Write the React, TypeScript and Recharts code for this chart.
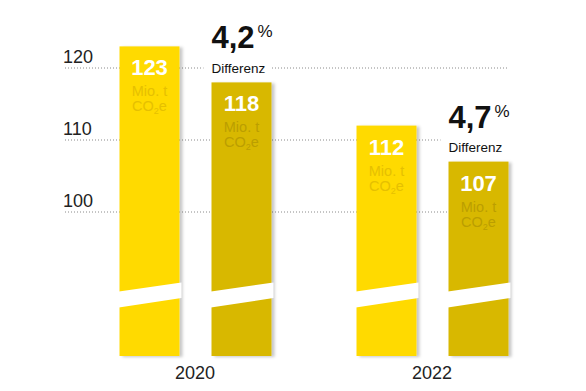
import React from 'react';
import { BarChart, Bar, XAxis, YAxis, CartesianGrid } from 'recharts';

const years = ['2020', '2022'];
const emissionsFirst = [123, 112];
const emissionsSecond = [118, 107];
const differences = ['4,2', '4,7'];
const yTicks = [100, 110, 120];
const unitLine1 = 'Mio. t';
const diffLabel = 'Differenz';

const data = years.map((year, i) => ({
  year,
  first: emissionsFirst[i],
  second: emissionsSecond[i],
  diff: differences[i],
}));

const FONT = '"Liberation Sans", Arial, Helvetica, sans-serif';
const COLOR_A = '#FFDA00';
const COLOR_B = '#D8B800';
const TEXT_A = '#E6C000';
const TEXT_B = '#BB9E00';

const BarBody = ({ x, y, width, height, fill }: any) => {
  const bottom = y + height;
  const x0 = x - 4;
  const x1 = x + width + 2;
  const band = `${x0},${bottom - 64} ${x1},${bottom - 73.5} ${x1},${bottom - 58} ${x0},${bottom - 48}`;
  return (
    <g>
      <defs>
        <filter id="barShadow" x="-20%" y="-5%" width="140%" height="110%">
          <feDropShadow dx="3" dy="1" stdDeviation="1.6" floodColor="#000" floodOpacity="0.22" />
        </filter>
      </defs>
      <rect x={x} y={y} width={width} height={height} fill={fill} filter="url(#barShadow)" />
      <polygon points={band} fill="#ffffff" />
    </g>
  );
};

const InnerText = ({ x, y, width, value, unitColor }: any) => {
  const cx = x + width / 2;
  return (
    <g fontFamily={FONT}>
      <text x={cx} y={y + 29} textAnchor="middle" fontSize={22} fontWeight="bold" fill="#ffffff">
        {value}
      </text>
      <text x={cx} y={y + 50} textAnchor="middle" fontSize={14.5} fill={unitColor}>
        {unitLine1}
      </text>
      <text x={cx} y={y + 65} textAnchor="middle" fontSize={14.5} fill={unitColor}>
        CO<tspan fontSize={9} dy={3}>2</tspan>
        <tspan dy={-3}>e</tspan>
      </text>
    </g>
  );
};

const ShapeFirst = (props: any) => (
  <g>
    <BarBody {...props} />
    <InnerText {...props} value={props.payload.first} unitColor={TEXT_A} />
  </g>
);

const ShapeSecond = (props: any) => {
  const { x, y } = props;
  return (
    <g>
      <BarBody {...props} />
      <InnerText {...props} value={props.payload.second} unitColor={TEXT_B} />
      <g fontFamily={FONT}>
        <rect x={x - 8} y={y - 23} width={68} height={16} fill="#ffffff" />
        <text x={x} y={y - 34} fontSize={31} fontWeight="bold" fill="#111">
          {props.payload.diff}
          <tspan fontSize={17} fontWeight="normal" dx={3} dy={-11}>%</tspan>
        </text>
        <text x={x} y={y - 9.5} fontSize={13.5} fill="#111">
          {diffLabel}
        </text>
      </g>
    </g>
  );
};

const YTick = ({ x, y, payload }: any) => (
  <text x={x - 13.5} y={y - 5} textAnchor="start" fontFamily={FONT} fontSize={18} fill="#222">
    {payload.value}
  </text>
);

const XTick = ({ x, y, payload }: any) => (
  <text x={x} y={y + 15} textAnchor="middle" fontFamily={FONT} fontSize={18} fill="#222">
    {payload.value}
  </text>
);

const GridLine = (p: any) => {
  const top = p.y;
  const bottom = p.y + p.height;
  if (Math.abs(p.y1 - top) < 1 || Math.abs(p.y1 - bottom) < 1) {
    return <g key={p.key} />;
  }
  return (
    <line
      key={p.key}
      x1={p.x1 - 11.5}
      x2={p.x2 - 43.5}
      y1={p.y1}
      y2={p.y2}
      stroke="#8a8a8a"
      strokeWidth={1}
      strokeDasharray="1 2"
    />
  );
};

export default function App() {
  return (
    <div style={{ width: 570, height: 383, background: '#fff' }}>
      <BarChart
        width={570}
        height={383}
        data={data}
        margin={{ top: 24, right: 27.5, bottom: 5, left: 0 }}
        barSize={60}
        barGap={32}
      >
        <CartesianGrid vertical={false} horizontal={GridLine} />
        <XAxis
          dataKey="year"
          axisLine={false}
          tickLine={false}
          height={30}
          tick={<XTick />}
          interval={0}
        />
        <YAxis
          domain={[80, 125]}
          ticks={yTicks}
          axisLine={false}
          tickLine={false}
          tickSize={0}
          tickMargin={0}
          width={68.5}
          tick={<YTick />}
        />
        <Bar dataKey="first" fill={COLOR_A} isAnimationActive={false} shape={<ShapeFirst />} />
        <Bar dataKey="second" fill={COLOR_B} isAnimationActive={false} shape={<ShapeSecond />} />
      </BarChart>
    </div>
  );
}
